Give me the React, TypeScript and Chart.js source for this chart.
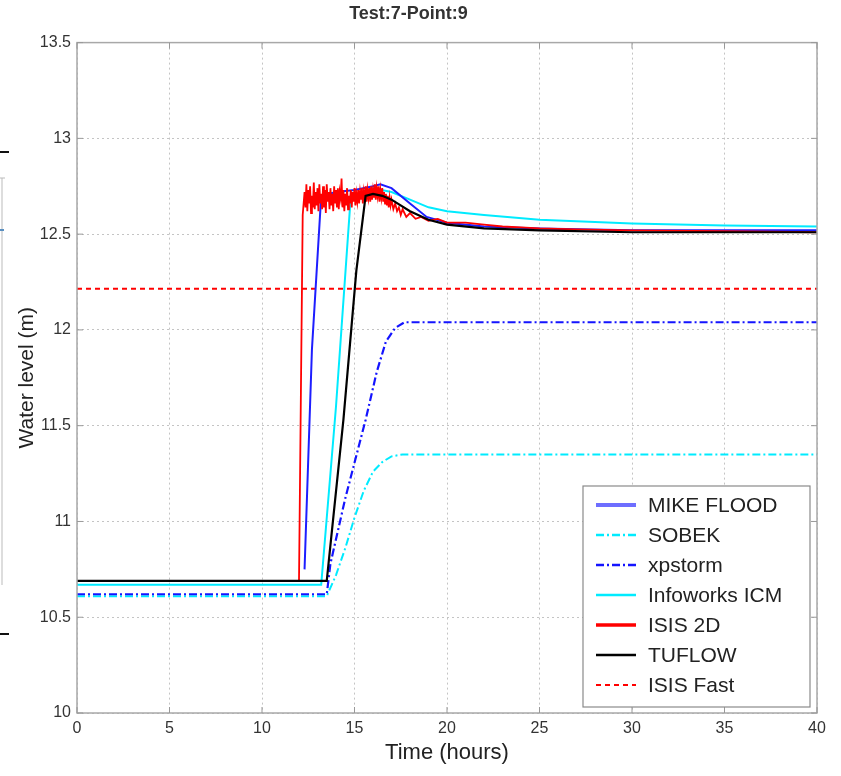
import React, { useEffect, useRef } from "react";
import { Chart, registerables } from "chart.js";

Chart.register(...registerables);

const chartTitle = "Test:7-Point:9";
const xAxisLabel = "Time (hours)";
const yAxisLabel = "Water level (m)";
const xTickValues = [0, 5, 10, 15, 20, 25, 30, 35, 40];
const yTickValues = [10, 10.5, 11, 11.5, 12, 12.5, 13, 13.5];

const seriesNames = ["MIKE FLOOD", "SOBEK", "xpstorm", "Infoworks ICM", "ISIS 2D", "TUFLOW", "ISIS Fast"];

const mikeT = [12.3, 12.7, 13.2, 14.0, 15.0, 16.0, 16.4, 17.0, 18.0, 18.9, 20.0, 22.0, 25.0, 30.0, 40.0];
const mikeY = [10.75, 11.9, 12.7, 12.72, 12.73, 12.75, 12.76, 12.74, 12.66, 12.59, 12.56, 12.54, 12.53, 12.52, 12.52];

const sobekT = [0, 13.5, 14.0, 14.5, 15.0, 15.5, 16.0, 16.5, 17.0, 17.6, 40];
const sobekY = [10.61, 10.61, 10.72, 10.86, 11.02, 11.16, 11.26, 11.31, 11.34, 11.35, 11.35];

const xpT = [0, 13.5, 13.7, 14.5, 15.6, 16.2, 16.7, 17.2, 17.7, 40];
const xpY = [10.62, 10.62, 10.78, 11.12, 11.53, 11.78, 11.94, 12.01, 12.04, 12.04];

const infoT = [0, 13.2, 14.0, 14.8, 15.5, 16.0, 17.0, 18.0, 19.0, 20.0, 22.0, 25.0, 30.0, 35.0, 40.0];
const infoY = [10.67, 10.67, 11.6, 12.7, 12.72, 12.74, 12.72, 12.68, 12.64, 12.62, 12.6, 12.575, 12.555, 12.545, 12.54];

const isis2dT = [
  0, 12.0, 12.2,
  12.3, 12.35, 12.4, 12.45, 12.5, 12.55, 12.6, 12.65, 12.7, 12.75, 12.8, 12.85, 12.9, 12.95,
  13.0, 13.05, 13.1, 13.15, 13.2, 13.25, 13.3, 13.35, 13.4, 13.45, 13.5, 13.55, 13.6, 13.65, 13.7, 13.75, 13.8, 13.85, 13.9, 13.95,
  14.0, 14.05, 14.1, 14.15, 14.2, 14.25, 14.3, 14.35, 14.4, 14.45, 14.5, 14.55, 14.6, 14.65, 14.7, 14.75, 14.8, 14.85, 14.9, 14.95,
  15.0, 15.05, 15.1, 15.15, 15.2, 15.25, 15.3, 15.35, 15.4, 15.45, 15.5, 15.55, 15.6, 15.65, 15.7, 15.75, 15.8, 15.85, 15.9, 15.95,
  16.0, 16.05, 16.1, 16.15, 16.2, 16.25, 16.3, 16.35, 16.4, 16.45, 16.5, 16.55, 16.6, 16.65, 16.7, 16.75, 16.8, 16.85, 16.9, 16.95,
  17.0, 17.1, 17.2, 17.3, 17.4, 17.5, 17.6, 17.8, 18.0, 18.3, 18.6, 19.0, 19.5, 20.0, 21.0, 22.0, 23.0, 24.0, 25.0, 27.0, 30.0, 35.0, 40.0,
];
const isis2dY = [
  10.69, 10.69, 12.6,
  12.72, 12.64, 12.76, 12.62, 12.73, 12.66, 12.75, 12.61, 12.7, 12.64, 12.77, 12.63, 12.72, 12.65,
  12.74, 12.62, 12.76, 12.66, 12.71, 12.63, 12.75, 12.64, 12.73, 12.61, 12.76, 12.67, 12.72, 12.63, 12.74, 12.65, 12.71, 12.62, 12.75, 12.66,
  12.73, 12.64, 12.74, 12.63, 12.72, 12.69, 12.79, 12.64, 12.73, 12.62, 12.71, 12.65, 12.74, 12.63, 12.7, 12.66, 12.73, 12.64, 12.72, 12.67,
  12.74, 12.65, 12.71, 12.67, 12.73, 12.66, 12.72, 12.68, 12.74, 12.66, 12.72, 12.68, 12.75, 12.67, 12.73, 12.69, 12.74, 12.67, 12.75, 12.68,
  12.73, 12.69, 12.76, 12.68, 12.74, 12.7, 12.75, 12.67, 12.73, 12.69, 12.74, 12.67, 12.72, 12.66, 12.71, 12.65, 12.7, 12.64, 12.69, 12.65,
  12.68, 12.63, 12.66, 12.62, 12.64, 12.6, 12.63, 12.59, 12.61, 12.58, 12.59, 12.57, 12.58, 12.56, 12.56, 12.55, 12.54, 12.535, 12.53, 12.525, 12.52, 12.515, 12.51,
];

const tuflowT = [0, 13.5, 14.4, 15.1, 15.6, 16.0, 16.5, 17.0, 18.0, 19.0, 20.0, 22.0, 25.0, 30.0, 40.0];
const tuflowY = [10.69, 10.69, 11.53, 12.31, 12.7, 12.71, 12.7, 12.68, 12.62, 12.575, 12.55, 12.53, 12.52, 12.51, 12.51];

const isisFastT = [0, 40];
const isisFastY = [12.215, 12.215];

function zip(t: number[], y: number[]) {
  return t.map((x, i) => ({ x, y: y[i] }));
}

const frameAndLegend = {
  id: "frameAndLegend",
  afterDraw(chart: any) {
    const { ctx, chartArea } = chart;
    const { left, right, top, bottom } = chartArea;
    ctx.save();
    ctx.strokeStyle = "#a8a8a8";
    ctx.lineWidth = 1.5;
    ctx.setLineDash([]);
    ctx.strokeRect(left, top, right - left, bottom - top);
    ctx.lineWidth = 1;
    ctx.strokeStyle = "#999";
    const xs = chart.scales.x;
    const ys = chart.scales.y;
    xTickValues.forEach((v) => {
      const px = xs.getPixelForValue(v);
      ctx.beginPath();
      ctx.moveTo(px, bottom);
      ctx.lineTo(px, bottom - 6);
      ctx.moveTo(px, top);
      ctx.lineTo(px, top + 6);
      ctx.stroke();
    });
    yTickValues.forEach((v) => {
      const py = ys.getPixelForValue(v);
      ctx.beginPath();
      ctx.moveTo(left, py);
      ctx.lineTo(left + 6, py);
      ctx.moveTo(right, py);
      ctx.lineTo(right - 6, py);
      ctx.stroke();
    });
    const bx = 583, by = 486, bw = 227, bh = 221;
    ctx.fillStyle = "#ffffff";
    ctx.fillRect(bx, by, bw, bh);
    ctx.strokeStyle = "#8a8a8a";
    ctx.lineWidth = 1.2;
    ctx.strokeRect(bx, by, bw, bh);
    ctx.font = "21px 'Liberation Sans', Arial, sans-serif";
    ctx.textBaseline = "middle";
    ctx.textAlign = "left";
    chart.data.datasets.forEach((ds: any, i: number) => {
      const yy = 505 + i * 30;
      ctx.strokeStyle = ds.legendColor || ds.borderColor;
      ctx.lineWidth = ds.legendWidth || 2.5;
      ctx.setLineDash(ds.borderDash || []);
      ctx.beginPath();
      ctx.moveTo(596, yy);
      ctx.lineTo(636, yy);
      ctx.stroke();
      ctx.setLineDash([]);
      ctx.fillStyle = "#222";
      ctx.fillText(ds.label, 648, yy + 1);
    });
    ctx.strokeStyle = "#111";
    ctx.lineWidth = 2;
    ctx.beginPath();
    ctx.moveTo(0, 152);
    ctx.lineTo(9, 152);
    ctx.moveTo(0, 634);
    ctx.lineTo(9, 634);
    ctx.stroke();
    ctx.strokeStyle = "#bbb";
    ctx.lineWidth = 1;
    ctx.beginPath();
    ctx.moveTo(0, 178);
    ctx.lineTo(5, 178);
    ctx.moveTo(2, 178);
    ctx.lineTo(2, 585);
    ctx.stroke();
    ctx.strokeStyle = "#5a8fc0";
    ctx.lineWidth = 2;
    ctx.beginPath();
    ctx.moveTo(0, 230);
    ctx.lineTo(4, 230);
    ctx.stroke();
    ctx.restore();
  },
};

export default function App() {
  const canvasRef = useRef<HTMLCanvasElement | null>(null);

  useEffect(() => {
    const canvas = canvasRef.current;
    if (!canvas) return;
    const font = "'Liberation Sans', Arial, sans-serif";
    const chart = new Chart(canvas, {
      type: "line",
      data: {
        datasets: [
          { label: seriesNames[0], data: zip(mikeT, mikeY), borderColor: "rgb(30,30,255)", borderWidth: 2, order: 2, legendWidth: 4, legendColor: "rgb(110,110,255)" } as any,
          { label: seriesNames[1], data: zip(sobekT, sobekY), borderColor: "rgb(0,235,255)", borderWidth: 2, borderDash: [8, 3, 2, 3], order: 5 } as any,
          { label: seriesNames[2], data: zip(xpT, xpY), borderColor: "rgb(20,20,255)", borderWidth: 2.2, borderDash: [8, 3, 2, 3], order: 4 } as any,
          { label: seriesNames[3], data: zip(infoT, infoY), borderColor: "rgb(0,235,255)", borderWidth: 2, order: 3 } as any,
          { label: seriesNames[4], data: zip(isis2dT, isis2dY), borderColor: "rgb(255,0,0)", borderWidth: 1.8, order: 1, legendWidth: 3.5 } as any,
          { label: seriesNames[5], data: zip(tuflowT, tuflowY), borderColor: "rgb(0,0,0)", borderWidth: 2.2, order: 0 } as any,
          { label: seriesNames[6], data: zip(isisFastT, isisFastY), borderColor: "rgb(255,0,0)", borderWidth: 2, borderDash: [5, 4], order: 6, legendWidth: 2 } as any,
        ],
      },
      options: {
        responsive: false,
        animation: false,
        elements: { point: { radius: 0 }, line: { tension: 0, fill: false } },
        layout: { padding: { left: 0, right: 24, top: 0, bottom: 0 } },
        plugins: {
          legend: { display: false },
          tooltip: { enabled: false },
          title: {
            display: true,
            text: chartTitle,
            color: "#333",
            font: { family: font, size: 18, weight: "bold", lineHeight: 1.2 },
            padding: { top: 3, bottom: 18 },
          },
        },
        scales: {
          x: {
            type: "linear",
            min: 0,
            max: 40,
            afterFit: (s: any) => {
              s.height = 63;
            },
            afterBuildTicks: (s: any) => {
              s.ticks = xTickValues.map((v) => ({ value: v }));
            },
            ticks: { color: "#333", font: { family: font, size: 16 }, padding: 6, maxRotation: 0, callback: (v: any) => String(v) },
            grid: { color: "#c4c4c4", lineWidth: 1, drawTicks: false },
            border: { display: false, dash: [2, 3] },
            title: { display: true, text: xAxisLabel, color: "#222", font: { family: font, size: 22 }, padding: { top: 10, bottom: 10 } },
          },
          y: {
            type: "linear",
            min: 10,
            max: 13.5,
            afterFit: (s: any) => {
              s.width = 77;
            },
            afterBuildTicks: (s: any) => {
              s.ticks = yTickValues.map((v) => ({ value: v }));
            },
            ticks: { color: "#333", font: { family: font, size: 16 }, padding: 6, callback: (v: any) => String(v) },
            grid: { color: "#c4c4c4", lineWidth: 1, drawTicks: false },
            border: { display: false, dash: [2, 3] },
            title: { display: true, text: yAxisLabel, color: "#222", font: { family: font, size: 21 }, padding: { top: 15, bottom: 0 } },
          },
        },
      } as any,
      plugins: [frameAndLegend],
    });
    return () => chart.destroy();
  }, []);

  return (
    <div style={{ position: "absolute", left: 0, top: 0, width: 841, height: 776, background: "#fff" }}>
      <canvas ref={canvasRef} width={841} height={776} style={{ display: "block", width: 841, height: 776 }} />
    </div>
  );
}
